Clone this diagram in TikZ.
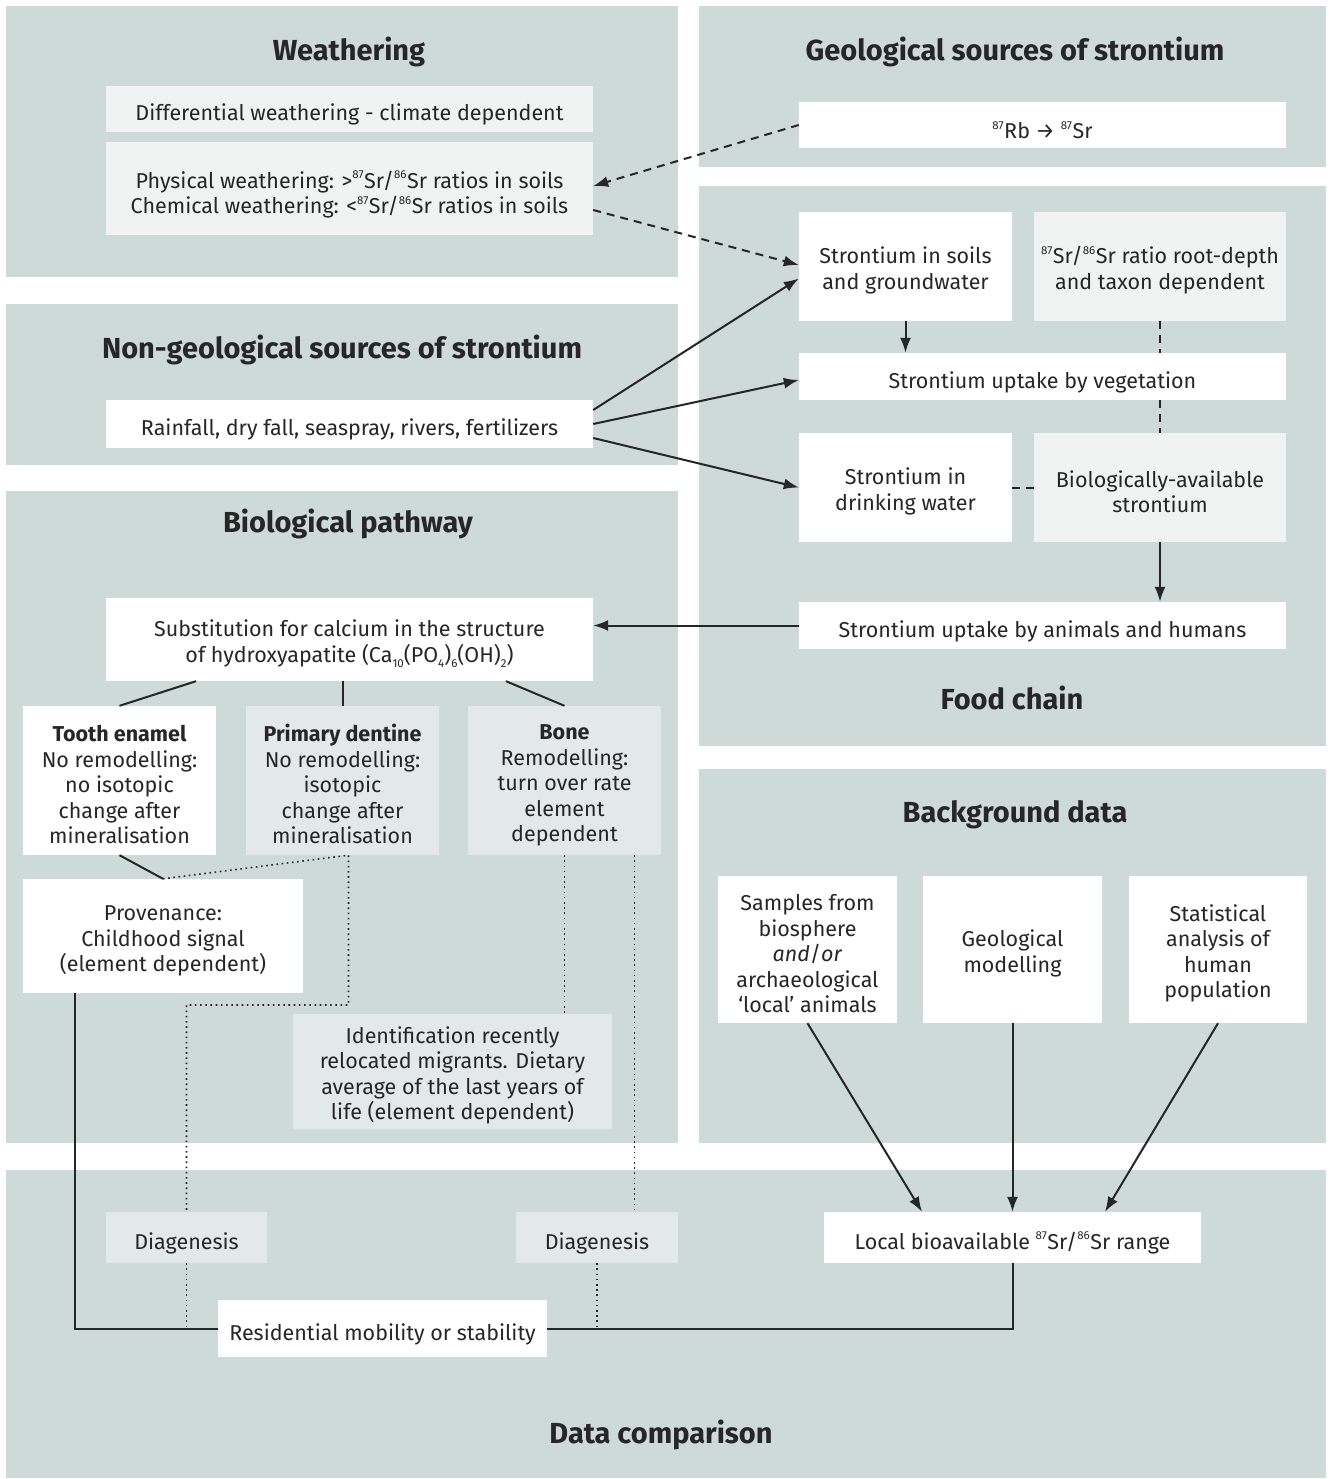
\documentclass[tikz,border=0pt]{standalone}
\usepackage{fontspec}
\setmainfont{Fira Sans}
\usetikzlibrary{arrows.meta,calc}
\definecolor{panelc}{RGB}{205,218,216}
\definecolor{lightc}{RGB}{241,243,242}
\definecolor{greyc}{RGB}{227,233,232}
\definecolor{inkc}{RGB}{38,38,38}
\newcommand{\isot}[1]{\raisebox{0.45em}{\fontsize{11.5}{11.5}\selectfont #1}\kern0.5pt}
\newcommand{\sbs}[1]{\raisebox{-0.22em}{\fontsize{11.5}{11.5}\selectfont #1}}
\newcommand{\st}{\rule{0pt}{25pt}}
\begin{document}
\begin{tikzpicture}[x=1pt,y=-1pt,
  box/.style={inner sep=0pt, align=center, text=inkc, font=\fontsize{21.5}{25.5}\selectfont,
    execute at begin node={\rule{0pt}{28pt}}},
  wbox/.style={box, fill=white},
  lightbox/.style={box, fill=lightc},
  greybox/.style={box, fill=greyc},
  sz/.style 2 args={minimum width=#1pt, minimum height=#2pt},
  title/.style={text=inkc, inner sep=0pt, font=\fontsize{29}{32}\selectfont\bfseries},
  ln/.style={draw=inkc, line width=2pt},
  arr/.style={ln, -{Latex[length=15pt,width=11pt]}},
  dsh/.style={ln, dash pattern=on 8pt off 6pt},
  dsharr/.style={dsh, -{Latex[length=15pt,width=11pt]}},
  dotl/.style={draw=inkc, line width=1.6pt, dash pattern=on 1.6pt off 3.6pt},
]
\useasboundingbox (0,0) rectangle (1330,1479);
\fill[white] (0,0) rectangle (1330,1479);
% panels
\fill[panelc] (6,6) rectangle (678,277);
\fill[panelc] (699,6) rectangle (1326,167);
\fill[panelc] (699,186) rectangle (1326,746);
\fill[panelc] (6,304) rectangle (678,465);
\fill[panelc] (6,491) rectangle (678,1143);
\fill[panelc] (699,769) rectangle (1326,1143);
\fill[panelc] (6,1170) rectangle (1326,1478);
% titles
\node[title] (tW) at (349,52) {Weathering};
\node[title] (tG) at (1015,52) {Geological sources of strontium};
\node[title] (tN) at (342,350) {Non-geological sources of strontium};
\node[title] (tB) at (348,524) {Biological pathway};
\node[title] (tF) at (1012,698) {Food chain};
\node[title] (tD) at (1015,815) {Background data};
\node[title] (tC) at (661,1435) {Data comparison};
% boxes
\node[lightbox, sz={487}{46}] (diff) at (349.5,109) {Differential weathering - climate dependent};
\node[lightbox, sz={487}{93}] (phys) at (349.5,188.5) {\rule{0pt}{30pt}Physical weathering: >\isot{87}Sr/\isot{86}Sr ratios in soils\\Chemical weathering: <\isot{87}Sr/\isot{86}Sr ratios in soils};
\node[wbox, sz={487}{46}] (rb) at (1042.5,125) {\isot{87}Rb → \isot{87}Sr};
\node[wbox, sz={213}{109}] (soils) at (905.5,266.5) {\st Strontium in soils\\and groundwater};
\node[lightbox, sz={252}{109}] (ratio) at (1160,266.5) {\st\isot{87}Sr/\isot{86}Sr ratio root-depth\\and taxon dependent};
\node[wbox, sz={487}{47}] (veg) at (1042.5,376.5) {Strontium uptake by vegetation};
\node[wbox, sz={213}{109}] (drink) at (905.5,487.5) {\st Strontium in\\drinking water};
\node[lightbox, sz={252}{109}] (bioav) at (1160,487.5) {\st Biologically-available\\strontium};
\node[wbox, sz={487}{47}] (animals) at (1042.5,625.5) {Strontium uptake by animals and humans};
\node[wbox, sz={487}{48}] (rain) at (349.5,424) {Rainfall, dry fall, seaspray, rivers, fertilizers};
\node[wbox, sz={487}{83}] (subst) at (349.5,639.5) {\st Substitution for calcium in the structure\\of hydroxyapatite (Ca\sbs{10}(PO\sbs{4})\sbs{6}(OH)\sbs{2})};
\node[wbox, sz={193}{149}] (tooth) at (119.5,780.5) {\st\textbf{Tooth enamel}\\No remodelling:\\no isotopic\\change after\\mineralisation};
\node[greybox, sz={193}{149}] (dentine) at (342.5,780.5) {\st\textbf{Primary dentine}\\No remodelling:\\isotopic\\change after\\mineralisation};
\node[greybox, sz={193}{149}] (bone) at (564.5,780.5) {\st\textbf{Bone}\\Remodelling:\\turn over rate\\element\\dependent};
\node[wbox, sz={280}{114}] (prov) at (163,936) {\st Provenance:\\Childhood signal\\(element dependent)};
\node[greybox, sz={319}{115}] (ident) at (452.5,1071.5) {\st Identification recently\\relocated migrants. Dietary\\average of the last years of\\life (element dependent)};
\node[wbox, sz={179}{147}] (samples) at (807.5,949.5) {\st Samples from\\biosphere\\\textit{and}/\textit{or}\\archaeological\\`local' animals};
\node[wbox, sz={179}{147}] (geomod) at (1012.5,949.5) {\st Geological\\modelling};
\node[wbox, sz={178}{147}] (stat) at (1218,949.5) {\st Statistical\\analysis of\\human\\population};
\node[wbox, sz={377}{51}] (local) at (1012.5,1237.5) {Local bioavailable \isot{87}Sr/\isot{86}Sr range};
\node[greybox, sz={161}{51}] (diag1) at (186.5,1237.5) {Diagenesis};
\node[greybox, sz={162}{51}] (diag2) at (597,1237.5) {Diagenesis};
\node[wbox, sz={329}{57}] (resid) at (382.5,1328.5) {Residential mobility or stability};
\coordinate (dc) at (186.5,1005);
% connectors
\draw[dsharr] (rb.west) -- ([yshift=2.5pt]phys.east);
\draw[dsharr] ([yshift=-21.5pt]phys.east) -- ([yshift=1.5pt]soils.west);
\draw[arr] ([yshift=14pt]rain.east) -- ([yshift=-12pt]soils.west);
\draw[arr] (rain.east) -- ([yshift=-3.5pt]veg.west);
\draw[arr] ([yshift=-14pt]rain.east) -- (drink.west);
\draw[arr] (soils.south) -- (soils.south |- veg.north);
\draw[dsh] (ratio.south) -- (ratio.south |- veg.north);
\draw[dsh] (bioav.north |- veg.south) -- (bioav.north);
\draw[dsh] (drink.east) -- (bioav.west);
\draw[arr] (bioav.south) -- (bioav.south |- animals.north);
\draw[arr] (animals.west) -- (subst.east |- animals.west);
\draw[ln] ([xshift=-153.5pt]subst.south) -- (tooth.north);
\draw[ln] (dentine.north |- subst.south) -- (dentine.north);
\draw[ln] ([xshift=156.5pt]subst.south) -- (bone.north);
\draw[ln] (tooth.south) -- (prov.north);
\draw[dotl] (prov.north) -- ([xshift=6pt]dentine.south) |- (dc) -- (diag1.north);
\draw[dotl] (diag1.south) -- (diag1.south |- resid.west);
\draw[dotl] (bone.south) -- (bone.south |- ident.north);
\draw[dotl] ([xshift=70pt]bone.south) -- ([xshift=70pt]bone.south |- diag2.north);
\draw[dotl] (diag2.south) -- (diag2.south |- resid.east);
\draw[ln] ([xshift=-88pt]prov.south) |- (resid.west);
\draw[ln] (resid.east) -| (local.south);
\draw[arr] (samples.south) -- ([xshift=-90.5pt]local.north);
\draw[arr] (geomod.south) -- (local.north);
\draw[arr] (stat.south) -- ([xshift=92.5pt]local.north);
\end{tikzpicture}
\end{document}
